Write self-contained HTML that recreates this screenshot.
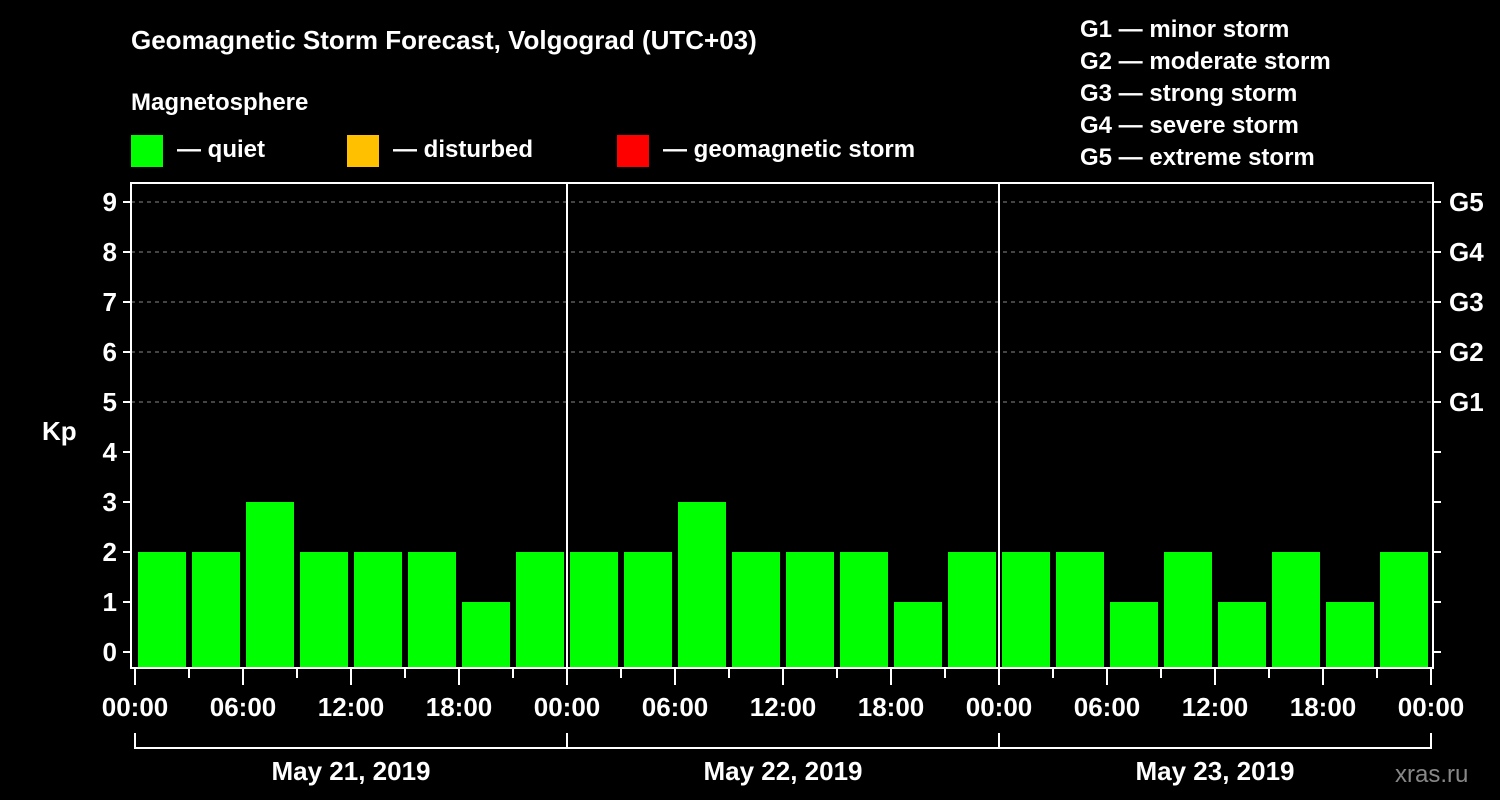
<!DOCTYPE html>
<html><head><meta charset="utf-8"><style>
body{margin:0;background:#000;width:1500px;height:800px;overflow:hidden}
svg{display:block;font-family:"Liberation Sans",Arial,sans-serif;font-weight:bold}
</style></head><body>
<svg id="c" width="1500" height="800" xmlns="http://www.w3.org/2000/svg">
<text x="131" y="49" fill="#fff" font-size="26">Geomagnetic Storm Forecast, Volgograd (UTC+03)</text>
<text x="131" y="110" fill="#fff" font-size="24">Magnetosphere</text>
<g>
<rect x="131" y="135" width="32" height="32" fill="#00ff00"/>
<text x="177" y="157" fill="#fff" font-size="24">— quiet</text>
<rect x="347" y="135" width="32" height="32" fill="#ffc000"/>
<text x="393" y="157" fill="#fff" font-size="24">— disturbed</text>
<rect x="617" y="135" width="32" height="32" fill="#ff0000"/>
<text x="663" y="157" fill="#fff" font-size="24">— geomagnetic storm</text>
</g>
<g fill="#fff" font-size="24">
<text x="1080" y="37">G1 — minor storm</text>
<text x="1080" y="69">G2 — moderate storm</text>
<text x="1080" y="101">G3 — strong storm</text>
<text x="1080" y="133">G4 — severe storm</text>
<text x="1080" y="165">G5 — extreme storm</text>
</g>
<text x="42" y="440" fill="#fff" font-size="26">Kp</text>
<text x="1395" y="782" fill="#888" font-size="24" font-weight="normal">xras.ru</text>
<g id="plot"></g>
</svg>
<script>
const kpValues=[2,2,3,2,2,2,1,2, 2,2,3,2,2,2,1,2, 2,2,1,2,1,2,1,2];
const dayLabels=["May 21, 2019","May 22, 2019","May 23, 2019"];
const hourLabels=["00:00","06:00","12:00","18:00"];
const yTicks=[0,1,2,3,4,5,6,7,8,9];
const gLabels=["G1","G2","G3","G4","G5"];
const NS="http://www.w3.org/2000/svg";
const g=document.getElementById('plot');
const L=131,R=1433,T=183,B=668,X0=135,DAY=432;
const y=v=>652-v*50;
const x=h=>X0+h*18; // h in hours
function el(t,a,p){const e=document.createElementNS(NS,t);for(const k in a)e.setAttribute(k,a[k]);(p||g).appendChild(e);return e;}
// gridlines
for(const v of yTicks){if(v>=5){const l=el('line',{x1:L,x2:R,y1:y(v),y2:y(v),stroke:'#888','stroke-dasharray':'4,4','stroke-width':1});

}}
// bars
kpValues.forEach((v,i)=>{const c=v>=5?'#ff0000':(v>=4?'#ffc000':'#00ff00');
const r=el('rect',{x:x(i*3)+3,y:y(v),width:48,height:667-y(v),fill:c});

});
// frame
el('rect',{x:L,y:T,width:R-L,height:B-T,fill:'none',stroke:'#fff','stroke-width':2});
for(let d=1;d<dayLabels.length;d++){const l=el('line',{x1:X0+d*DAY,x2:X0+d*DAY,y1:T,y2:B,stroke:'#fff','stroke-width':2});

}
// y ticks
for(const v of yTicks){el('line',{x1:L-8,x2:L,y1:y(v),y2:y(v),stroke:'#fff','stroke-width':2});
el('line',{x1:R,x2:R+8,y1:y(v),y2:y(v),stroke:'#fff','stroke-width':2});
const t=el('text',{x:L-14,y:y(v)+9,fill:'#fff','font-size':26,'text-anchor':'end'});t.textContent=v;

}
gLabels.forEach((s,i)=>{const t=el('text',{x:R+16,y:y(5+i)+9,fill:'#fff','font-size':26});t.textContent=s;

});
// x ticks
for(let h=0;h<=72;h+=3){const maj=h%6===0;el('line',{x1:x(h),x2:x(h),y1:B,y2:B+(maj?17:10),stroke:'#fff','stroke-width':2});}
for(let d=0;d<=dayLabels.length;d++){for(let k=0;k<4;k++){if(d===dayLabels.length&&k>0)break;
const t=el('text',{x:x(d*24+k*6),y:716,fill:'#fff','font-size':26,'text-anchor':'middle'});t.textContent=hourLabels[k];

}}
// day brackets
dayLabels.forEach((s,d)=>{const a=X0+d*DAY,b=a+DAY;
el('path',{d:`M${a} 733V748H${b}V733`,fill:'none',stroke:'#fff','stroke-width':2});
const t=el('text',{x:(a+b)/2,y:780,fill:'#fff','font-size':26,'text-anchor':'middle'});t.textContent=s;

});
</script>
</body></html>
